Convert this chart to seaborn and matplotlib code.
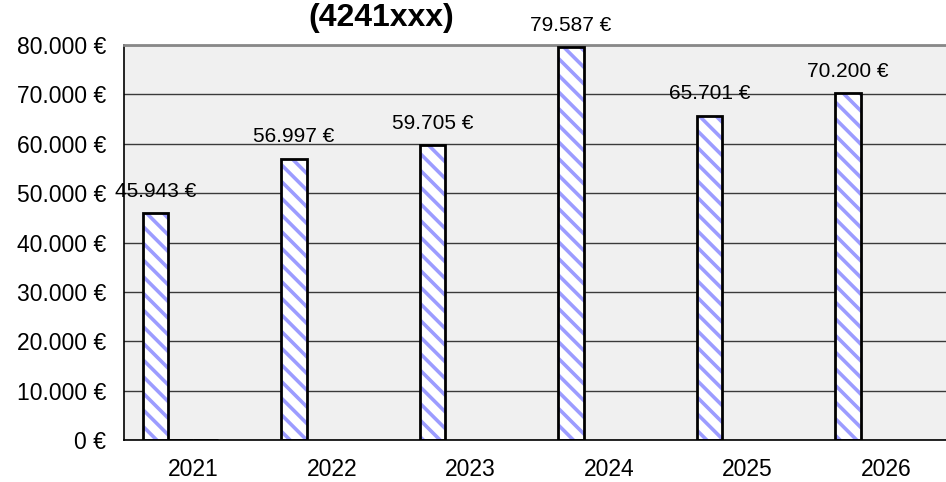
import numpy as np
import pandas as pd
import matplotlib
matplotlib.use("Agg")
import matplotlib.pyplot as plt
from matplotlib.patches import Rectangle
import seaborn as sns

# ---------------------------------------------------------------------------
# data
# ---------------------------------------------------------------------------
years = ["2021", "2022", "2023", "2024", "2025", "2026"]
amount = [45943, 56997, 59705, 79587, 65701, 70200]
# two empty series that only show up (as a flat line) in 2021
empty_years = ["2021"]
empty_b = [0]
empty_c = [0]
series_order = ["A", "B", "C", "D"]
y_ticks = list(range(0, 80001, 10000))
title = "(4241xxx)"


def euro(v):
    return f"{v:,.0f} €".replace(",", ".")


rows = [{"year": y, "series": "A", "value": v} for y, v in zip(years, amount)]
rows += [{"year": y, "series": "B", "value": v} for y, v in zip(empty_years, empty_b)]
rows += [{"year": y, "series": "C", "value": v} for y, v in zip(empty_years, empty_c)]
df = pd.DataFrame(rows)

sns.set_theme(style="white")
plt.rcParams["font.family"] = ["Liberation Sans", "DejaVu Sans"]
plt.rcParams["hatch.linewidth"] = 2.6

fig = plt.figure(figsize=(9.46, 4.82), dpi=100, facecolor="white")
ax = fig.add_axes([124 / 946, 1 - 440 / 482, (955 - 124) / 946, (440 - 45) / 482])
ax.set_facecolor("#f0f0f0")

sns.barplot(data=df, x="year", y="value", hue="series", hue_order=series_order,
            order=years, width=0.726, gap=0, ax=ax, legend=False, errorbar=None)

# hatch fill + black outline on every bar
for p in list(ax.patches):
    p.set_facecolor("white")
    p.set_edgecolor("#9c9cff")
    p.set_hatch("\\\\")
    p.set_linewidth(0)
    ax.add_patch(Rectangle(p.get_xy(), p.get_width(), p.get_height(),
                           fill=False, edgecolor="black", linewidth=2, zorder=3))

ax.bar_label(ax.containers[0], labels=[euro(v) for v in amount],
             padding=9, fontsize=15, color="black", clip_on=False)

ax.set_xlim(-0.5, len(years) - 0.5)
ax.set_ylim(0, 80000)
ax.set_yticks(y_ticks)
ax.set_yticklabels([euro(v) for v in y_ticks], fontsize=16.5)
ax.set_xticks(np.arange(-0.5, len(years), 1))
ax.set_xticklabels([])
ax.set_xticks(range(len(years)), minor=True)
ax.set_xticklabels(years, minor=True, fontsize=16.5)
ax.tick_params(axis="y", which="major", direction="out", length=7, width=1,
               color="black", labelcolor="black", pad=6)
ax.tick_params(axis="x", which="major", direction="out", length=6, width=1, color="black")
ax.tick_params(axis="x", which="minor", length=0, pad=13, labelcolor="black")
ax.set_xlabel("")
ax.set_ylabel("")

ax.yaxis.grid(True, color="#3a3a3a", linewidth=1)
ax.set_axisbelow(True)
for side in ["left", "bottom"]:
    ax.spines[side].set_color("black")
    ax.spines[side].set_linewidth(1.2)
ax.spines["top"].set_color("#888888")
ax.spines["top"].set_linewidth(2)
ax.spines["right"].set_visible(False)

fig.text(381 / 946, 1 - 18 / 482, title, ha="center", va="center",
         fontsize=23, fontweight="bold", color="black")

fig.savefig("out.png", dpi=100)
